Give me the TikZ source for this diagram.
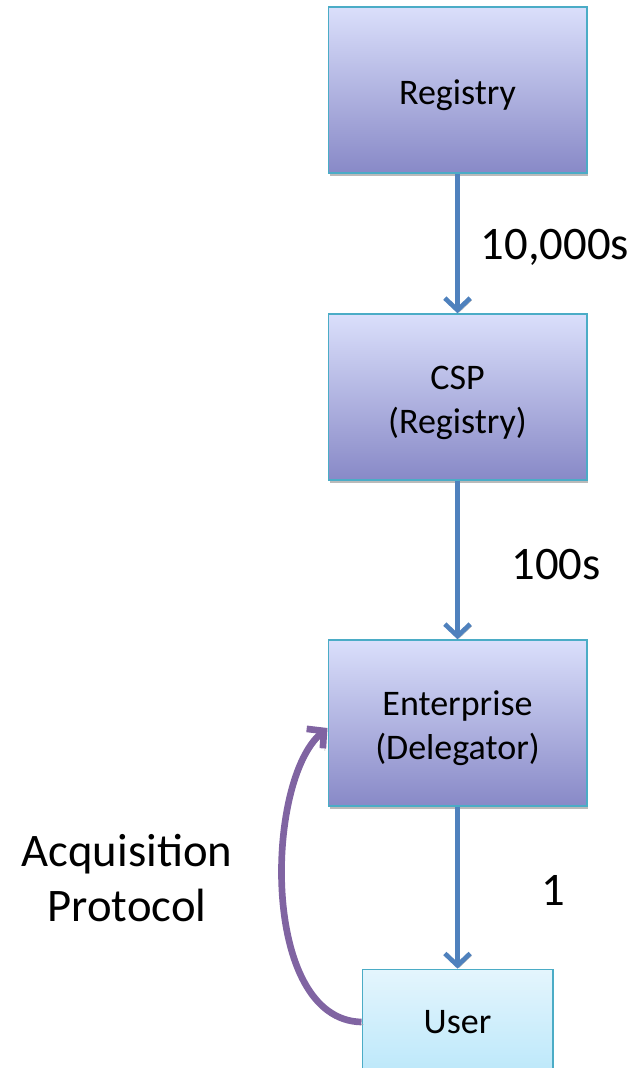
\documentclass[tikz,border=0pt]{standalone}
\usepackage{fontspec}
\setmainfont{Carlito}
\usetikzlibrary{arrows.meta, shadows, positioning}
\definecolor{boxtop}{RGB}{218,223,251}
\definecolor{boxbot}{RGB}{136,137,199}
\definecolor{usertop}{RGB}{228,245,253}
\definecolor{userbot}{RGB}{188,232,250}
\definecolor{boxedge}{RGB}{75,172,198}
\definecolor{flow}{RGB}{79,129,189}
\definecolor{acq}{RGB}{128,100,162}
\newcommand{\partytext}[1]{\raisebox{-4pt}[\height][\depth]{\setlength{\tabcolsep}{0pt}\begin{tabular}{c}#1\end{tabular}}}

\begin{document}
\begin{tikzpicture}[x=0.75pt, y=-0.75pt,
	party/.style={draw=boxedge, line width=1pt, top color=boxtop, bottom color=boxbot,
		minimum width=194pt, minimum height=124.5pt, align=center,
		font=\fontsize{27}{33}\selectfont,
		drop shadow={shadow xshift=1pt, shadow yshift=-2pt, fill=gray!60, opacity=.9}},
	enduser/.style={party, top color=usertop, bottom color=userbot,
		minimum width=143pt, minimum height=79pt},
	fanout/.style={draw=flow, line width=3.5pt, -{Straight Barb[length=9pt, width=19pt]},
		preaction={draw=gray!60, transform canvas={shift={(1.2pt,-1.5pt)}}}},
	count/.style={font=\fontsize{35}{41}\selectfont, align=center}]
	\useasboundingbox (0,0) rectangle (639,1068);
	\node [party] (registry) at (457.5,90) {\partytext{Registry}};
	\node [party] (csp) at (457.5,397) {\partytext{CSP\\(Registry)}};
	\node [party] (enterprise) at (457.5,723) {\partytext{Enterprise\\(Delegator)}};
	\node [enduser] (user) at (457.5,1022) {User};
	\draw [fanout] (registry) -- (csp);
	\draw [fanout] (csp) -- (enterprise);
	\draw [fanout] (enterprise) -- (user);
	\node [count] (tenk) at (555,247) {10,000s};
	\node [count] (hundred) at (556,565) {100s};
	\node [count] (one) at (553,890) {1};
	\node [count] (acqlabel) at (127,878) {Acquisition\\Protocol};
	\draw [draw=acq, line width=5pt, -{Straight Barb[length=9pt, width=19pt]},
		preaction={draw=gray!60, transform canvas={shift={(1.5pt,-1.8pt)}}}]
		(user.west) .. controls (260,1020) and (265,780) .. (enterprise.west |- 0,728);
\end{tikzpicture}
\end{document}
